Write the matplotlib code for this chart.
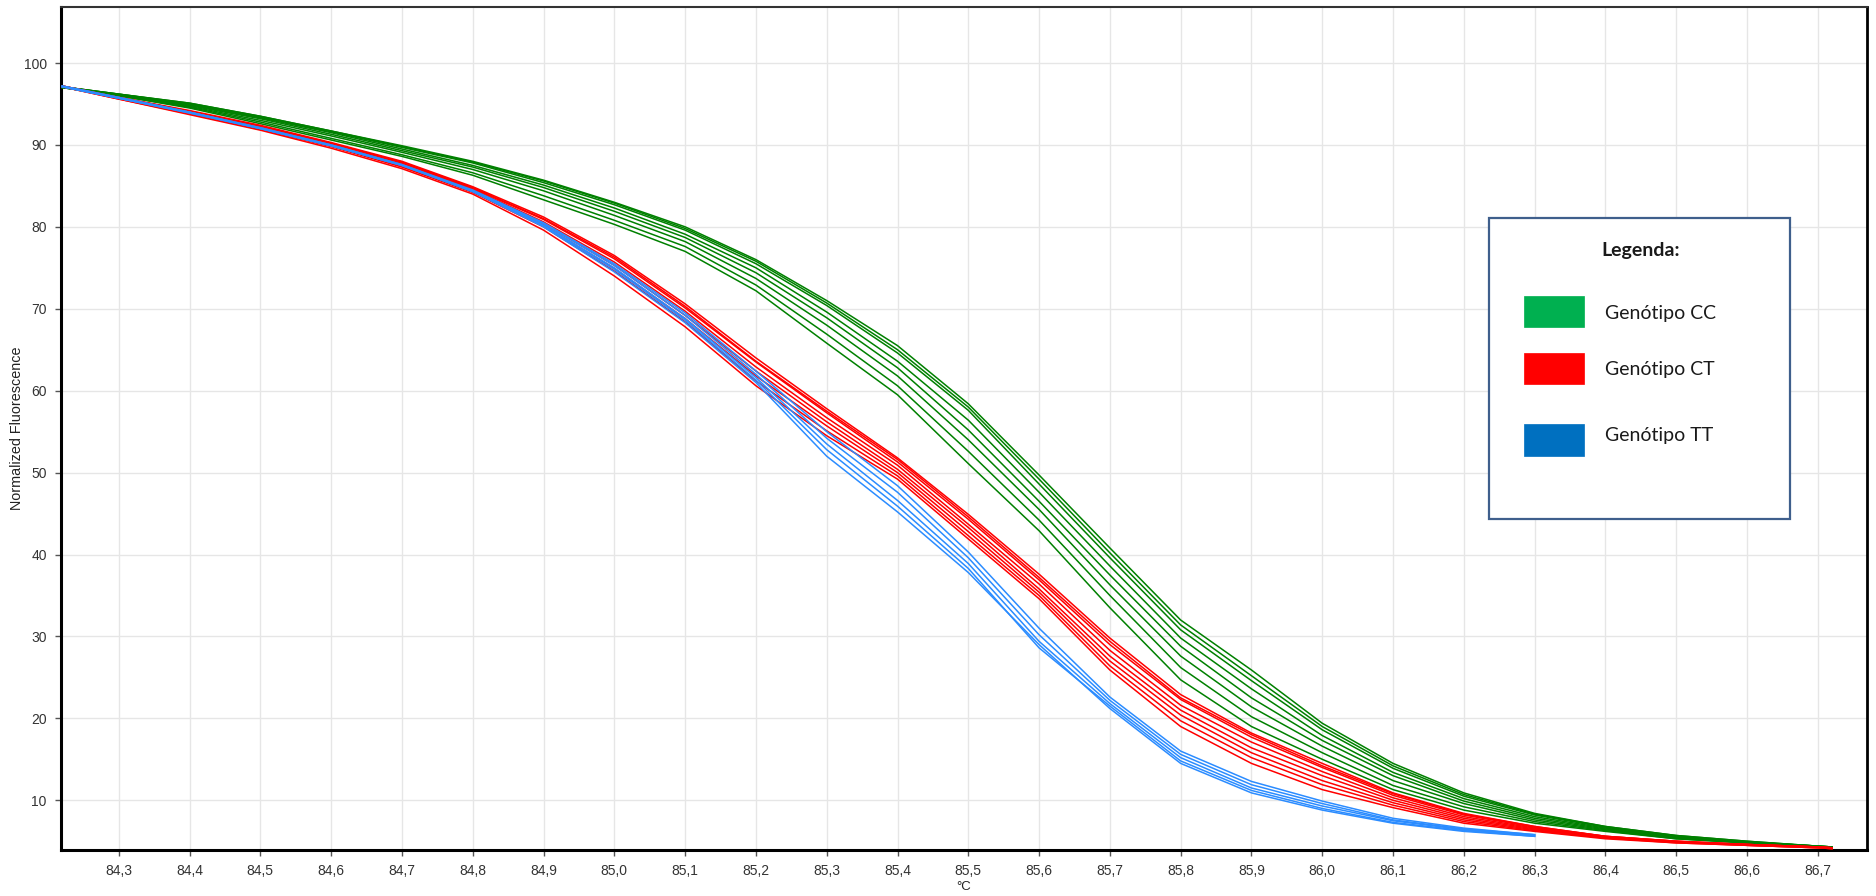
import numpy as np
import matplotlib
matplotlib.use("Agg")
import matplotlib.pyplot as plt
from matplotlib.patches import Rectangle

# ---------------- data ----------------
temps = [84.22, 84.3, 84.4, 84.5, 84.6, 84.7, 84.8, 84.9, 85.0, 85.1, 85.2,
         85.3, 85.4, 85.5, 85.6, 85.7, 85.8, 85.9, 86.0, 86.1, 86.2, 86.3,
         86.4, 86.5, 86.6, 86.7, 86.72]

green_curves = [
    [97.1, 96.2, 95.1, 93.5, 91.7, 89.9, 88.0, 85.7, 83.0, 80.0, 76.0, 71.0, 65.5, 58.4, 49.7, 40.8, 32.0, 25.9, 19.4, 14.5, 10.9, 8.4, 6.8, 5.7, 5.0, 4.4, 4.3],
    [97.1, 96.2, 95.1, 93.5, 91.7, 89.8, 87.9, 85.6, 82.9, 79.8, 75.8, 70.7, 65.0, 58.0, 49.2, 40.2, 31.4, 25.2, 19.0, 14.2, 10.7, 8.3, 6.8, 5.7, 5.0, 4.4, 4.3],
    [97.1, 96.2, 95.0, 93.4, 91.6, 89.7, 87.8, 85.4, 82.7, 79.6, 75.5, 70.4, 64.6, 57.6, 48.6, 39.6, 30.8, 24.6, 18.6, 13.9, 10.5, 8.2, 6.7, 5.6, 4.9, 4.4, 4.3],
    [97.1, 96.1, 94.9, 93.3, 91.5, 89.5, 87.5, 85.1, 82.3, 79.1, 75.0, 69.6, 63.6, 56.4, 47.6, 38.6, 29.8, 23.6, 17.9, 13.4, 10.2, 8.0, 6.6, 5.5, 4.9, 4.4, 4.3],
    [97.1, 96.1, 94.8, 93.2, 91.3, 89.3, 87.3, 84.8, 81.9, 78.7, 74.4, 68.9, 62.8, 55.2, 46.5, 37.5, 28.8, 22.5, 17.3, 13.0, 9.9, 7.8, 6.5, 5.5, 4.9, 4.4, 4.3],
    [97.0, 96.1, 94.7, 93.0, 91.1, 89.1, 87.0, 84.4, 81.4, 78.2, 73.7, 68.0, 61.8, 54.0, 45.5, 36.3, 27.6, 21.4, 16.6, 12.4, 9.6, 7.6, 6.4, 5.4, 4.8, 4.3, 4.2],
    [97.0, 96.0, 94.6, 92.8, 90.8, 88.8, 86.6, 83.8, 80.8, 77.6, 72.9, 66.9, 60.6, 52.6, 44.2, 35.0, 26.2, 20.2, 15.8, 11.8, 9.2, 7.4, 6.3, 5.3, 4.8, 4.3, 4.2],
    [97.0, 96.0, 94.5, 92.6, 90.6, 88.6, 86.3, 83.3, 80.3, 77.0, 72.2, 65.8, 59.5, 51.1, 42.9, 33.5, 24.7, 19.0, 15.0, 11.3, 8.8, 7.2, 6.2, 5.3, 4.8, 4.3, 4.2],
]

red_curves = [
    [97.2, 95.8, 94.2, 92.4, 90.3, 88.0, 84.9, 81.2, 76.5, 70.6, 64.0, 57.8, 51.8, 44.9, 37.6, 29.8, 22.9, 18.2, 14.5, 10.9, 8.4, 6.8, 5.6, 5.0, 4.6, 4.3, 4.2],
    [97.2, 95.8, 94.1, 92.3, 90.2, 87.9, 84.8, 81.0, 76.3, 70.3, 63.6, 57.5, 51.6, 44.6, 37.2, 29.4, 22.5, 18.0, 14.2, 10.8, 8.3, 6.8, 5.6, 5.0, 4.6, 4.3, 4.2],
    [97.2, 95.8, 94.1, 92.3, 90.2, 87.8, 84.7, 80.9, 76.1, 70.1, 63.5, 57.3, 51.3, 44.3, 36.9, 29.0, 22.3, 17.7, 14.0, 10.6, 8.2, 6.7, 5.6, 5.0, 4.6, 4.3, 4.2],
    [97.2, 95.7, 94.0, 92.2, 90.1, 87.7, 84.6, 80.6, 75.7, 69.7, 62.9, 56.7, 50.9, 43.7, 36.4, 28.3, 21.6, 17.1, 13.5, 10.3, 8.0, 6.6, 5.5, 4.9, 4.6, 4.3, 4.2],
    [97.2, 95.7, 94.0, 92.1, 90.0, 87.6, 84.4, 80.4, 75.3, 69.2, 62.4, 56.2, 50.4, 43.3, 35.8, 27.6, 21.0, 16.4, 13.0, 10.0, 7.8, 6.5, 5.5, 4.9, 4.6, 4.3, 4.2],
    [97.1, 95.7, 93.9, 92.0, 89.9, 87.4, 84.3, 80.2, 74.9, 68.8, 61.8, 55.7, 50.0, 42.8, 35.4, 27.0, 20.4, 15.8, 12.4, 9.7, 7.6, 6.4, 5.4, 4.9, 4.5, 4.2, 4.1],
    [97.1, 95.6, 93.8, 91.9, 89.8, 87.3, 84.2, 80.0, 74.6, 68.4, 61.2, 55.1, 49.6, 42.3, 35.0, 26.4, 19.7, 15.2, 11.9, 9.4, 7.4, 6.3, 5.4, 4.8, 4.5, 4.2, 4.1],
    [97.1, 95.6, 93.7, 91.8, 89.6, 87.1, 84.0, 79.6, 74.0, 67.8, 60.6, 54.5, 49.2, 41.9, 34.6, 25.9, 19.0, 14.5, 11.3, 9.1, 7.2, 6.2, 5.3, 4.8, 4.5, 4.2, 4.1],
]

# blue curves disappear under the red ones after 86.3 °C
blue_curves = [
    [97.2, 95.8, 94.0, 92.1, 90.0, 87.6, 84.5, 80.5, 75.5, 69.5, 62.4, 55.0, 48.4, 40.3, 31.0, 22.6, 16.0, 12.3, 9.9, 7.8, 6.6, 5.8],
    [97.2, 95.8, 94.0, 92.1, 90.0, 87.6, 84.4, 80.4, 75.3, 69.2, 62.0, 54.2, 47.6, 39.6, 30.2, 22.2, 15.6, 11.9, 9.6, 7.6, 6.5, 5.8],
    [97.1, 95.7, 94.0, 92.0, 89.9, 87.5, 84.4, 80.2, 75.0, 68.8, 61.6, 53.5, 46.6, 38.9, 29.4, 21.8, 15.2, 11.5, 9.3, 7.5, 6.4, 5.7],
    [97.1, 95.7, 93.9, 92.0, 89.9, 87.5, 84.3, 80.1, 74.8, 68.6, 61.3, 52.8, 45.9, 38.3, 28.6, 21.5, 14.8, 11.2, 9.0, 7.3, 6.3, 5.6],
    [97.1, 95.7, 93.9, 92.0, 89.9, 87.5, 84.3, 80.0, 74.5, 68.3, 61.0, 52.0, 45.2, 37.8, 29.0, 21.2, 14.5, 10.9, 8.8, 7.2, 6.2, 5.6],
]

xticks = [84.3, 84.4, 84.5, 84.6, 84.7, 84.8, 84.9, 85.0, 85.1, 85.2, 85.3, 85.4,
          85.5, 85.6, 85.7, 85.8, 85.9, 86.0, 86.1, 86.2, 86.3, 86.4, 86.5, 86.6, 86.7]
yticks = [10, 20, 30, 40, 50, 60, 70, 80, 90, 100]

legend_labels = ["Genótipo CC", "Genótipo CT", "Genótipo TT"]
legend_colors = ["#00b050", "#ff0000", "#0070c0"]
line_colors = {"green": "#008000", "red": "#ff0000", "blue": "#2b8cff"}

# ---------------- figure ----------------
W, H = 1876, 896
fig = plt.figure(figsize=(W / 100, H / 100), dpi=100)
ax_w = 1866.7 - 60.7
ax = fig.add_axes([60.7 / W, 1 - 850 / H, ax_w / W, (850 - 7.3) / H])

for c in green_curves:
    ax.plot(temps[:len(c)], c, color=line_colors["green"], lw=1.1, zorder=3,
            solid_joinstyle="round")
for c in red_curves:
    ax.plot(temps[:len(c)], c, color=line_colors["red"], lw=1.1, zorder=3,
            solid_joinstyle="round")
for c in blue_curves:
    ax.plot(temps[:len(c)], c, color=line_colors["blue"], lw=1.1, zorder=4,
            solid_joinstyle="round")

ax.set_xlim(84.218, 86.769)
ax.set_ylim(3.93, 106.8)
ax.set_xticks(xticks)
ax.set_xticklabels([f"{v:.1f}".replace(".", ",") for v in xticks])
ax.set_yticks(yticks)
ax.grid(True, color="#e6e6e6", lw=1.0, zorder=0)
ax.set_axisbelow(True)

for lab in ax.get_xticklabels() + ax.get_yticklabels():
    lab.set_fontfamily("Liberation Sans")
    lab.set_fontsize(10)
    lab.set_color("#333333")
ax.tick_params(axis="both", length=4, width=1, color="#555555", pad=6)

for side in ["left", "bottom"]:
    ax.spines[side].set_linewidth(2.2)
    ax.spines[side].set_color("black")
ax.spines["right"].set_linewidth(2.0)
ax.spines["right"].set_color("black")
ax.spines["top"].set_linewidth(1.5)
ax.spines["top"].set_color("#333333")

ax.set_ylabel("Normalized Fluorescence", fontsize=10.4, family="Liberation Sans", color="#222222")
ax.yaxis.set_label_coords((24 - 60.7) / ax_w, 0.5)
ax.set_xlabel("°C", fontsize=9.5, family="Liberation Sans", color="#222222", labelpad=2)

# ---------------- custom legend box ----------------
def fx(px):
    return px / W

def fy(py):
    return 1 - py / H

fig.add_artist(Rectangle((fx(1489), fy(519.3)), fx(1790) - fx(1489), fy(218.3) - fy(519.3),
                         transform=fig.transFigure, facecolor="white", edgecolor="#3f5f8c",
                         lw=1.6, zorder=10))
fig.text(fx(1640.7), fy(250), "Legenda:", ha="center", va="center", fontsize=14,
         fontweight="bold", family="Lato", color="#1a1a1a", zorder=11)
sw_tops = [295.7, 353.3, 424.3]
sw_bots = [327.3, 383.7, 455.7]
txt_y = [313, 369.5, 436]
for lab, col, t, b, ty in zip(legend_labels, legend_colors, sw_tops, sw_bots, txt_y):
    fig.add_artist(Rectangle((fx(1524), fy(b)), fx(1584.3) - fx(1524), fy(t) - fy(b),
                             transform=fig.transFigure, facecolor=col, edgecolor=col,
                             lw=0.5, zorder=11))
    fig.text(fx(1605), fy(ty), lab, ha="left", va="center", fontsize=14,
             family="Lato", color="#1a1a1a", zorder=11)

fig.savefig("out.png", dpi=100, facecolor="white")
